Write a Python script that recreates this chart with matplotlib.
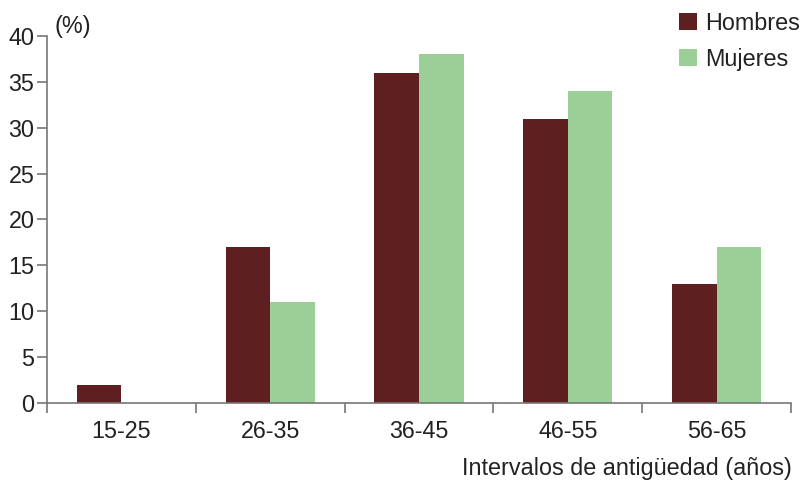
import matplotlib
matplotlib.use('Agg')
import matplotlib.pyplot as plt
import numpy as np

plt.rcParams['font.family'] = ['Liberation Sans', 'DejaVu Sans']

categories = ['15-25', '26-35', '36-45', '46-55', '56-65']
hombres = [2, 17, 36, 31, 13]
mujeres = [0, 11, 38, 34, 17]
yticks = [0, 5, 10, 15, 20, 25, 30, 35, 40]

W, H = 803, 483
FS = 16.8
fig = plt.figure(figsize=(W / 100, H / 100), dpi=100)
ax = fig.add_axes([47 / W, (H - 403) / H, (791 - 47) / W, (403 - 36) / H])

x = np.arange(len(categories))
width = 0.3
ax.bar(x - width / 2, hombres, width, color='#5E1F21', label='Hombres')
ax.bar(x + width / 2, mujeres, width, color='#9CCF97', label='Mujeres')

ax.set_xlim(-0.5, len(categories) - 0.5)
ax.set_ylim(0, 40)
ax.set_yticks(yticks)
ax.set_xticks(x)
ax.set_xticklabels(categories)
ax.set_xticks(np.arange(-0.5, len(categories)), minor=True)

for s in ['top', 'right']:
    ax.spines[s].set_visible(False)
for s in ['left', 'bottom']:
    ax.spines[s].set_color('#777777')
    ax.spines[s].set_linewidth(1.2)

ax.tick_params(axis='y', direction='out', length=7, width=1.2, color='#777777',
               labelsize=FS, labelcolor='#222222', pad=2)
ax.tick_params(axis='x', which='major', length=0, labelsize=FS,
               labelcolor='#222222', pad=12)
ax.tick_params(axis='x', which='minor', direction='out', length=7, width=1.2,
               color='#777777')

fig.text(54 / W, 1 - 26 / H, '(%)', fontsize=FS, color='#222222',
         ha='left', va='center')
fig.text(792 / W, 1 - 468 / H, 'Intervalos de antigüedad (años)', fontsize=FS,
         color='#222222', ha='right', va='center')

fig.legend(loc='upper left', bbox_to_anchor=(679 / W, 1 - 12 / H), frameon=False,
           borderpad=0, borderaxespad=0,
           fontsize=FS, handlelength=0.75, handleheight=0.75, handletextpad=0.35,
           labelspacing=0.55, labelcolor='#222222')

fig.savefig('out.png', dpi=100)
